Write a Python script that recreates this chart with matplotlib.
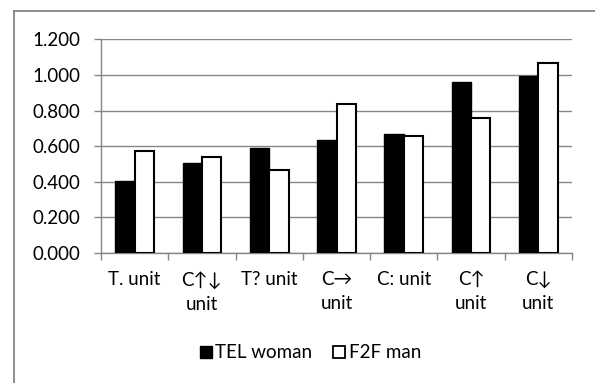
import matplotlib.pyplot as plt
import numpy as np
from matplotlib.lines import Line2D

plt.rcParams['font.family'] = ['Lato', 'DejaVu Sans']

# Data
categories = ["T. unit", "C\u2191\u2193\nunit", "T? unit", "C\u2192\nunit",
              "C: unit", "C\u2191\nunit", "C\u2193\nunit"]
tel_woman = [0.404, 0.507, 0.591, 0.633, 0.666, 0.958, 0.992]
f2f_man = [0.573, 0.541, 0.464, 0.838, 0.657, 0.760, 1.065]
y_ticks = [0.0, 0.2, 0.4, 0.6, 0.8, 1.0, 1.2]

grid_color = "#868686"
fs = 13.5

fig = plt.figure(figsize=(5.95, 3.83), dpi=100)
ax = fig.add_axes([101 / 595, 1 - 253 / 383, 471 / 595, (253 - 39.3) / 383])

x = np.arange(len(categories))
w = 0.287
ax.bar(x - w / 2, tel_woman, w, color="black", edgecolor="black",
       linewidth=1, label="TEL woman", zorder=3)
ax.bar(x + w / 2, f2f_man, w, color="white", edgecolor="black",
       linewidth=1.5, label="F2F man", zorder=3)

ax.set_xlim(-0.5, len(categories) - 0.5)
ax.set_ylim(0, 1.2)
ax.set_yticks(y_ticks)
ax.set_yticklabels([f"{v:.3f}" for v in y_ticks], fontsize=fs)
ax.yaxis.grid(True, color=grid_color, linewidth=1)
ax.set_axisbelow(True)

# Category labels centred, ticks between categories
ax.set_xticks(x)
ax.set_xticklabels(categories, fontsize=fs, linespacing=1.5)
ax.tick_params(axis="x", length=0, pad=13)
ax.set_xticks(np.arange(-0.5, len(categories), 1.0), minor=True)
ax.tick_params(axis="x", which="minor", length=5, color=grid_color, width=1)
ax.tick_params(axis="y", length=5, color=grid_color, width=1, pad=10)

for side in ["top", "right"]:
    ax.spines[side].set_visible(False)
for side in ["left", "bottom"]:
    ax.spines[side].set_color(grid_color)
    ax.spines[side].set_linewidth(1)

# Legend
handles = [
    Line2D([], [], marker="s", linestyle="none", markersize=9,
           markerfacecolor="black", markeredgecolor="black"),
    Line2D([], [], marker="s", linestyle="none", markersize=9,
           markerfacecolor="white", markeredgecolor="black", markeredgewidth=1.3),
]
fig.legend(handles, ["TEL woman", "F2F man"], loc="center",
           bbox_to_anchor=(309 / 595, 1 - 353 / 383), ncol=2, frameon=False,
           fontsize=fs, handletextpad=0.05, columnspacing=1.0, handlelength=0.9)

# Chart area border (only left and top visible)
fig.add_artist(Line2D([13.5 / 595, 13.5 / 595], [0, 1 - 11 / 383],
                      transform=fig.transFigure, color=grid_color, linewidth=1.3))
fig.add_artist(Line2D([13.5 / 595, 1], [1 - 11 / 383, 1 - 11 / 383],
                      transform=fig.transFigure, color=grid_color, linewidth=1.3))

fig.savefig("out.png", dpi=100)
